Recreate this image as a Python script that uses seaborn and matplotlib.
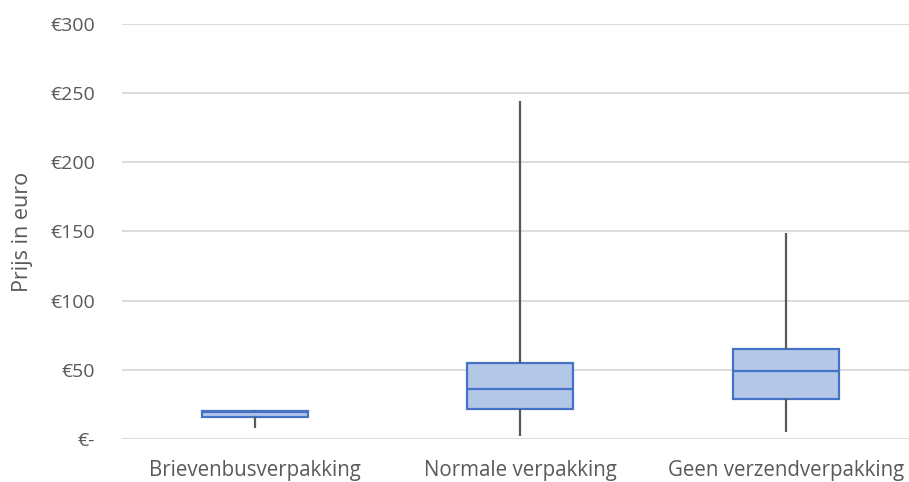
import matplotlib
matplotlib.use("Agg")
import matplotlib.pyplot as plt
import seaborn as sns
import pandas as pd

# Five-number summaries per packaging type: minimum, Q1, median, Q3, maximum (euro)
categories = ["Brievenbusverpakking", "Normale verpakking", "Geen verzendverpakking"]
minimum = [8.0, 2.4, 5.0]
q1 = [16.0, 21.7, 29.1]
median = [19.8, 36.2, 49.4]
q3 = [20.0, 55.2, 65.3]
maximum = [21.0, 244.0, 148.7]

y_ticks = [0, 50, 100, 150, 200, 250, 300]
y_tick_labels = ["€-", "€50", "€100", "€150", "€200", "€250", "€300"]

# With five values, linear-interpolated quartiles fall exactly on the 2nd/3rd/4th values
rows = []
for i, cat in enumerate(categories):
    for v in (minimum[i], q1[i], median[i], q3[i], maximum[i]):
        rows.append({"Verpakking": cat, "Prijs": v})
df = pd.DataFrame(rows)

sns.set_theme(style="white")
plt.rcParams["font.family"] = ["Open Sans", "DejaVu Sans"]

W, H = 909, 482
fig = plt.figure(figsize=(W / 100, H / 100), dpi=100)
ax = fig.add_axes([122 / W, 43 / H, (W - 122) / W, 415 / H])

box_edge = "#4472C4"
box_fill = "#B4C7E7"
whisker = "#595959"
text_col = "#595959"

sns.boxplot(
    data=df, x="Verpakking", y="Prijs", order=categories, ax=ax,
    whis=(0, 100), width=0.4, saturation=1, color=box_fill,
    linecolor=box_edge, linewidth=1.6, showfliers=False, showcaps=False,
    whiskerprops=dict(color=whisker, linewidth=1.6),
    medianprops=dict(color=box_edge, linewidth=1.6),
    zorder=3,
)

ax.set_xlim(-0.5, -0.5 + (W - 122) / 265.5)
ax.set_ylim(0, 300)
ax.set_yticks(y_ticks)
ax.set_yticklabels(y_tick_labels)
ax.yaxis.grid(True, color="#D9D9D9", linewidth=1.3, zorder=0)
ax.set_axisbelow(True)
for s in ax.spines.values():
    s.set_visible(False)

ax.tick_params(axis="y", length=0, pad=19.5, labelsize=14, labelcolor=text_col)
ax.tick_params(axis="x", length=0, pad=15, labelsize=14.8, labelcolor=text_col)
ax.set_xlabel("")
ax.set_ylabel("Prijs in euro", fontsize=15.5, color=text_col)
ax.yaxis.set_label_coords((33 - 122) / (W - 122), 0.5)

fig.savefig("out.png", dpi=100)
